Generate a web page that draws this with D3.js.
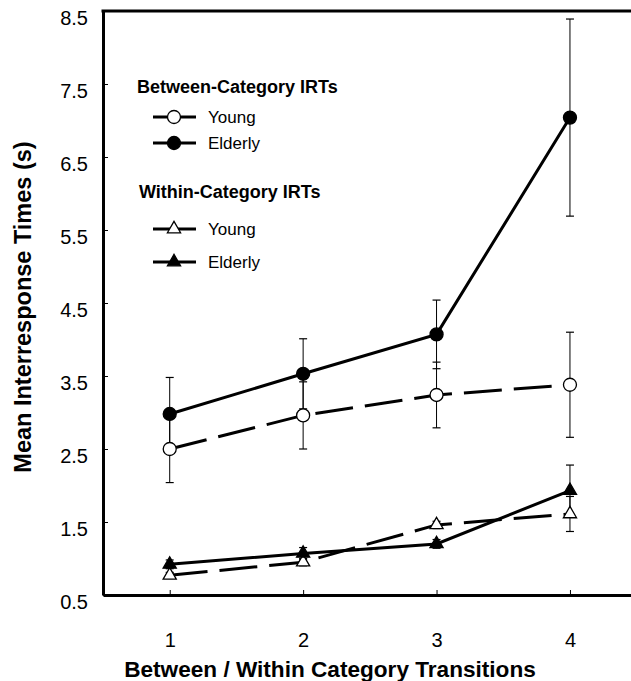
<!DOCTYPE html>
<html>
<head>
<meta charset="utf-8">
<script src="https://cdn.jsdelivr.net/npm/d3@7"></script>
<style>
  body { margin: 0; background: #fff; }
  svg { font-family: 'Liberation Sans', Arial, sans-serif; }
</style>
</head>
<body>
<div id="chart"></div>
<script>
// transitions on the x axis
const transitions = [1, 2, 3, 4]
const yTicks = [0.5, 1.5, 2.5, 3.5, 4.5, 5.5, 6.5, 7.5, 8.5]

// between-category IRTs
const betweenYoung = [2.50, 2.96, 3.24, 3.38]
const betweenYoungErr = [0.46, 0.46, 0.45, 0.72]
const betweenElderly = [2.98, 3.53, 4.07, 7.04]
const betweenElderlyErr = [0.50, 0.48, 0.47, 1.35]

// within-category IRTs
const withinYoung = [0.77, 0.95, 1.46, 1.61]
const withinYoungErr = [0.04, 0.05, 0.05, 0.24]
const withinElderly = [0.92, 1.07, 1.20, 1.93]
const withinElderlyErr = [0.06, 0.08, 0.06, 0.35]

const width = 631,
  height = 681

const svg = d3.select('#chart')
              .append('svg')
              .attr('width', width)
              .attr('height', height)

const xScale = d3.scaleLinear()
                 .domain([0.5, 4.4575])
                 .range([103, 631])

const yScale = d3.scaleLinear()
                 .domain([0.5, 8.5])
                 .range([595, 11])

// axes, ticks point inward
const xAxis = svg.append('g')
                 .attr('transform', 'translate(0,' + yScale(0.5) + ')')
                 .call(d3.axisBottom(xScale).tickValues(transitions).tickSizeInner(-5).tickSizeOuter(0).tickPadding(38).tickFormat(d3.format('d')))
xAxis.select('.domain').attr('stroke-width', 3)
xAxis.selectAll('.tick line').attr('stroke-width', 1)
xAxis.selectAll('text').attr('font-size', 20).attr('fill', '#000').attr('font-family', null)

const yAxis = svg.append('g')
                 .attr('transform', 'translate(' + xScale(0.5) + ',0)')
                 .call(d3.axisLeft(yScale).tickValues(yTicks).tickSizeInner(-5).tickSizeOuter(0).tickPadding(15).tickFormat(d3.format('.1f')))
yAxis.select('.domain').attr('stroke-width', 3)
yAxis.selectAll('.tick line').attr('stroke-width', 1)
yAxis.selectAll('text').attr('font-size', 20).attr('fill', '#000').attr('font-family', null).attr('dy', 13)

// top frame line
svg.append('line')
   .attr('x1', xScale(0.5) - 1.5)
   .attr('x2', width)
   .attr('y1', yScale(8.5))
   .attr('y2', yScale(8.5))
   .attr('stroke', '#000')
   .attr('stroke-width', 3)

svg.append('text')
   .text('Between / Within Category Transitions')
   .attr('x', 330)
   .attr('y', 677)
   .attr('text-anchor', 'middle')
   .attr('font-weight', 'bold')
   .attr('font-size', 22.6)

svg.append('text')
   .text('Mean Interresponse Times (s)')
   .attr('transform', 'translate(31,307) rotate(-90)')
   .attr('text-anchor', 'middle')
   .attr('font-weight', 'bold')
   .attr('font-size', 23.5)

const series = [
  { values: betweenYoung, err: betweenYoungErr, shape: 'circle', fill: '#fff', dash: '38,12' },
  { values: betweenElderly, err: betweenElderlyErr, shape: 'circle', fill: '#000', dash: null },
  { values: withinYoung, err: withinYoungErr, shape: 'triangle', fill: '#fff', dash: '38,12' },
  { values: withinElderly, err: withinElderlyErr, shape: 'triangle', fill: '#000', dash: null }
]

const line = d3.line()
               .x((d, i) => xScale(transitions[i]))
               .y((d) => yScale(d))

const triangle = d3.symbol().type(d3.symbolTriangle).size(75)

// error bars first, under lines and markers
series.forEach(function(s) {
  const bars = svg.append('g')
  s.values.forEach(function(v, i) {
    const cx = xScale(transitions[i])
    const lo = yScale(v - s.err[i]), hi = yScale(v + s.err[i])
    bars.append('line').attr('x1', cx).attr('x2', cx).attr('y1', lo).attr('y2', hi)
        .attr('stroke', '#000').attr('stroke-width', 1)
    bars.append('line').attr('x1', cx - 4).attr('x2', cx + 4).attr('y1', lo).attr('y2', lo)
        .attr('stroke', '#000').attr('stroke-width', 1.2)
    bars.append('line').attr('x1', cx - 4).attr('x2', cx + 4).attr('y1', hi).attr('y2', hi)
        .attr('stroke', '#000').attr('stroke-width', 1.2)
  })
})

series.forEach(function(s) {
  svg.append('path')
     .datum(s.values)
     .attr('d', line)
     .attr('fill', 'none')
     .attr('stroke', '#000')
     .attr('stroke-width', 3)
     .attr('stroke-dasharray', s.dash)
})

function drawMarker(g, shape, fill, cx, cy) {
  if (shape === 'circle') {
    g.append('circle')
     .attr('cx', cx).attr('cy', cy).attr('r', 6.5)
     .attr('fill', fill).attr('stroke', '#000').attr('stroke-width', 1.3)
  } else {
    g.append('path')
     .attr('d', triangle())
     .attr('transform', 'translate(' + cx + ',' + cy + ')')
     .attr('fill', fill).attr('stroke', '#000').attr('stroke-width', 1.3)
  }
}

series.forEach(function(s) {
  const g = svg.append('g')
  s.values.forEach(function(v, i) {
    drawMarker(g, s.shape, s.fill, xScale(transitions[i]), yScale(v))
  })
})

// legend
const legend = svg.append('g').attr('class', 'legend')
const legendTitles = [
  { text: 'Between-Category IRTs', x: 137, y: 93 },
  { text: 'Within-Category IRTs', x: 139, y: 198 }
]
legendTitles.forEach(function(t) {
  legend.append('text')
        .text(t.text)
        .attr('x', t.x)
        .attr('y', t.y)
        .attr('font-weight', 'bold')
        .attr('font-size', 18)
})

const legendRows = [
  { label: 'Young', s: series[0], y: 117 },
  { label: 'Elderly', s: series[1], y: 143 },
  { label: 'Young', s: series[2], y: 229 },
  { label: 'Elderly', s: series[3], y: 262 }
]
legendRows.forEach(function(r) {
  legend.append('line')
        .attr('x1', 153).attr('x2', 196)
        .attr('y1', r.y).attr('y2', r.y)
        .attr('stroke', '#000').attr('stroke-width', 3)
  drawMarker(legend, r.s.shape, r.s.fill, 174, r.y)
  legend.append('text')
        .text(r.label)
        .attr('x', 208)
        .attr('y', r.y + 6)
        .attr('font-size', 17)
})
</script>
</body>
</html>
